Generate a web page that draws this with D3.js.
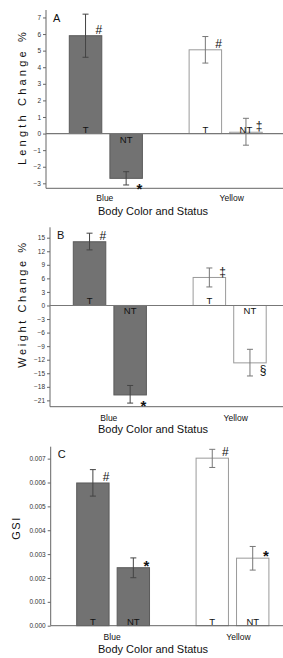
<!DOCTYPE html>
<html><head><meta charset="utf-8">
<script src="https://cdn.jsdelivr.net/npm/d3@7"></script>
<style>html,body{margin:0;padding:0;background:#fff;}svg{display:block;}</style>
</head><body>
<svg id="chart" width="283" height="658"></svg>
<script>
const categories = ["Blue", "Yellow"];
const statuses = ["T", "NT"];
const barColors = ["#727272", "#ffffff"];

const lengthMeans = [5.9, -2.7, 5.05, 0.08];
const lengthLow   = [4.6, -3.1, 4.25, -0.7];
const lengthHigh  = [7.2, -2.3, 5.85, 0.92];
const lengthMarks = ["#", "*", "#", "‡"];
const lengthTicks = [-3, -2, -1, 0, 1, 2, 3, 4, 5, 6, 7];

const weightMeans = [14.1, -19.8, 6.2, -12.7];
const weightLow   = [12.3, -21.6, 4.1, -15.6];
const weightHigh  = [16.0, -17.7, 8.3, -9.7];
const weightMarks = ["#", "*", "‡", "§"];
const weightTicks = [-21, -18, -15, -12, -9, -6, -3, 0, 3, 6, 9, 12, 15];

const gsiMeans = [0.00598, 0.00243, 0.00702, 0.00283];
const gsiLow   = [0.00543, 0.00201, 0.00663, 0.00233];
const gsiHigh  = [0.00654, 0.00284, 0.00739, 0.00332];
const gsiMarks = ["#", "*", "#", "*"];
const gsiTicks = [0, 0.001, 0.002, 0.003, 0.004, 0.005, 0.006, 0.007];

const panels = [
  {letter: "A", title: "Length Change %", means: lengthMeans, low: lengthLow, high: lengthHigh, marks: lengthMarks,
   ticks: lengthTicks, fmt: d3.format("d"), domain: [-3.3, 7.45], yr: [188.3, 10], axisX: 46,
   groupRange: [69.3, 262.2], titleX: 22, titleY: 97, ls: 3.2, catY: 201, xtY: 214.5, letterY: 22},
  {letter: "B", title: "Weight Change %", means: weightMeans, low: weightLow, high: weightHigh, marks: weightMarks,
   ticks: weightTicks, fmt: d3.format("d"), domain: [-22.4, 17.3], yr: [406.7, 227.3], axisX: 50,
   groupRange: [73.3, 266.2], titleX: 22, titleY: 304, ls: 2.6, catY: 420.5, xtY: 433, letterY: 238.5},
  {letter: "C", title: "GSI", means: gsiMeans, low: gsiLow, high: gsiHigh, marks: gsiMarks,
   ticks: gsiTicks, fmt: d3.format(".3f"), domain: [0, 0.0075], yr: [625.7, 446.7], axisX: 50.7,
   groupRange: [76.7, 268.9], titleX: 16, titleY: 528, ls: 1.5, catY: 640, xtY: 652.5, letterY: 457.5}
];
const catDx = [-1, 6];

const svg = d3.select("#chart");
const font = "Liberation Sans, Arial, sans-serif";

panels.forEach(p => {
  const g = svg.append("g");
  const y = d3.scaleLinear().domain(p.domain).range(p.yr);
  const xg = d3.scaleBand().domain(categories).range(p.groupRange).paddingInner(0.39).paddingOuter(0);
  const xi = d3.scaleBand().domain(statuses).range([0, xg.bandwidth()]).paddingInner(0.2).paddingOuter(0);

  const rows = [];
  categories.forEach((c, ci) => statuses.forEach((s, si) => {
    const k = ci * 2 + si;
    rows.push({c, s, ci, v: p.means[k], lo: p.low[k], hi: p.high[k], m: p.marks[k]});
  }));
  const bx = d => xg(d.c) + xi(d.s);
  const bw = xi.bandwidth();
  const y0 = y(0);

  // bars
  g.selectAll("rect.bar").data(rows).join("rect")
    .attr("x", bx).attr("width", bw)
    .attr("y", d => Math.min(y(d.v), y0))
    .attr("height", d => Math.abs(y(d.v) - y0))
    .attr("fill", d => barColors[d.ci])
    .attr("stroke", d => d.ci === 0 ? "#5a5a5a" : "#9a9a9a")
    .attr("stroke-width", 1);

  // error bars
  const eg = g.selectAll("g.err").data(rows).join("g")
    .attr("stroke", d => d.ci === 0 ? "#444" : "#777").attr("stroke-width", 1).attr("fill", "none");
  eg.append("line").attr("x1", d => bx(d) + bw / 2).attr("x2", d => bx(d) + bw / 2)
    .attr("y1", d => y(d.lo)).attr("y2", d => y(d.hi));
  eg.append("line").attr("x1", d => bx(d) + bw / 2 - 3).attr("x2", d => bx(d) + bw / 2 + 3)
    .attr("y1", d => y(d.lo)).attr("y2", d => y(d.lo));
  eg.append("line").attr("x1", d => bx(d) + bw / 2 - 3).attr("x2", d => bx(d) + bw / 2 + 3)
    .attr("y1", d => y(d.hi)).attr("y2", d => y(d.hi));

  // axes
  const yAxis = d3.axisLeft(y).tickValues(p.ticks).tickFormat(p.fmt).tickSize(3).tickPadding(2);
  const ya = g.append("g").attr("transform", `translate(${p.axisX},0)`).call(yAxis);
  ya.select(".domain").attr("stroke", "#666").attr("d", `M0,${p.yr[0]}V${p.yr[1]}`);
  ya.selectAll(".tick line").attr("stroke", "#666");
  ya.selectAll(".tick text").attr("font-family", font).attr("font-size", 6.5).attr("fill", "#333");

  g.append("line").attr("x1", p.axisX).attr("x2", 283).attr("y1", p.yr[0]).attr("y2", p.yr[0])
    .attr("stroke", "#666");
  if (p.domain[0] < 0) {
    g.append("line").attr("x1", p.axisX).attr("x2", 283).attr("y1", y0).attr("y2", y0)
      .attr("stroke", "#777").attr("stroke-width", 1.2);
  }

  // T / NT labels
  g.selectAll("text.st").data(rows).join("text")
    .attr("x", d => bx(d) + bw / 2)
    .attr("y", d => d.v >= 0 ? y0 - 1 : y0 + 9)
    .attr("text-anchor", "middle").attr("font-family", font).attr("font-size", 9.5)
    .attr("fill", "#111").text(d => d.s);

  // significance markers
  g.selectAll("text.mk").data(rows).join("text")
    .attr("x", d => bx(d) + bw - 3)
    .attr("y", d => d.v >= 0 ? y(d.v) - 6 : y(d.v) + 7)
    .attr("dy", d => d.m === "*" ? "0.6em" : "0.35em")
    .attr("text-anchor", "middle").attr("font-family", font)
    .attr("font-size", d => d.m === "*" ? 15 : 12)
    .attr("font-weight", d => d.m === "*" ? "bold" : "normal")
    .attr("fill", "#111").text(d => d.m);

  // panel letter
  g.append("text").attr("x", p.axisX + 7).attr("y", p.letterY).attr("font-family", font)
    .attr("font-size", 11).attr("fill", "#111").text(p.letter);

  // category labels
  g.selectAll("text.cat").data(categories).join("text")
    .attr("x", (c, i) => xg(c) + xg.bandwidth() / 2 + catDx[i]).attr("y", p.catY)
    .attr("text-anchor", "middle").attr("font-family", font).attr("font-size", 8.5)
    .attr("fill", "#111").text(c => c);

  g.append("text").attr("x", 153).attr("y", p.xtY).attr("text-anchor", "middle")
    .attr("font-family", font).attr("font-size", 11).attr("fill", "#111").text("Body Color and Status");

  g.append("text").attr("transform", `translate(${p.titleX},${p.titleY}) rotate(-90)`)
    .attr("text-anchor", "middle").attr("dy", "0.35em").attr("font-family", font)
    .attr("font-size", 11).attr("letter-spacing", p.ls).attr("fill", "#111").text(p.title);
});
</script>
</body></html>
